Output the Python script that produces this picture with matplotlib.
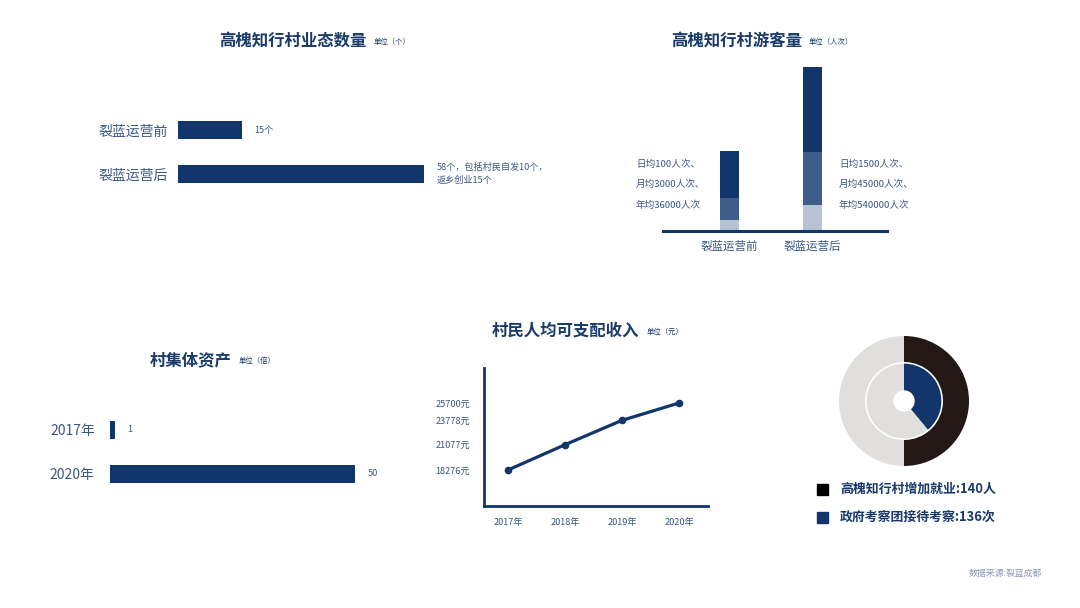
import matplotlib.pyplot as plt
from matplotlib.patches import Rectangle

plt.rcParams['font.family'] = ['Noto Sans CJK SC', 'DejaVu Sans']

# data
biz_labels = ['裂蓝运营前', '裂蓝运营后']
biz_counts = [15, 58]
biz_notes = ['15个', '58个，包括村民自发10个，\n返乡创业15个']

visit_labels = ['裂蓝运营前', '裂蓝运营后']
# stacked segment heights (relative units): light, mid, dark
visit_light = [11, 26]
visit_mid = [22, 53]
visit_dark = [47, 85]
visit_notes_before = ['日均100人次、', '月均3000人次、', '年均36000人次']
visit_notes_after = ['日均1500人次、', '月均45000人次、', '年均540000人次']

asset_years = ['2017年', '2020年']
asset_times = [1, 50]

income_years = ['2017年', '2018年', '2019年', '2020年']
income_values = [18276, 21077, 23778, 25700]

ring_labels = ['高槐知行村增加就业:140人', '政府考察团接待考察:136次']
ring_fill = [0.50, 0.39]  # share of each ring that is filled

NAVY = '#12366c'
MID = '#3e5d8a'
LIGHT = '#b7c2d3'
TXT = '#3b5783'
TITLE = '#1a3a6a'
DARK = '#231815'
GRAY = '#e0dfdd'

W, H = 1080, 608
fig = plt.figure(figsize=(W / 100, H / 100), dpi=100)


def box(x0, y0, x1, y1):
    # pixel box (top-left origin) -> figure fraction rect
    return [x0 / W, 1 - y1 / H, (x1 - x0) / W, (y1 - y0) / H]


def title(x, y, text, unit):
    t = fig.text(x / W, 1 - y / H, text, fontsize=11.8, fontweight='bold',
                 color=TITLE, ha='left', va='center')
    fig.canvas.draw()
    bb = t.get_window_extent()
    fig.text((bb.x1 + 7) / W, 1 - (y + 1) / H, unit, fontsize=5.3,
             color=TITLE, ha='left', va='center')


def clean(ax):
    for s in ax.spines.values():
        s.set_visible(False)
    ax.tick_params(length=0)


# ---- chart 1: business count
ax1 = fig.add_axes(box(178, 108, 424, 196))
ax1.barh(range(len(biz_counts)), biz_counts, height=0.41, color=NAVY)
ax1.set_xlim(0, max(biz_counts))
ax1.set_ylim(1.5, -0.5)
ax1.set_xticks([])
ax1.set_yticks(range(len(biz_labels)))
ax1.set_yticklabels(biz_labels, fontsize=10, color=TXT)
ax1.tick_params(axis='y', pad=7)
clean(ax1)
for i, (v, note) in enumerate(zip(biz_counts, biz_notes)):
    ax1.annotate(note, (v, i), xytext=(9, 0), textcoords='offset points',
                 fontsize=6.6, color=TXT, va='center', ha='left', linespacing=1.5,
                 annotation_clip=False)
title(219, 41, '高槐知行村业态数量', '单位（个）')

# ---- chart 2: visitors
ax2 = fig.add_axes(box(663, 61, 887, 231))
xs = range(len(visit_labels))
ax2.bar(xs, visit_light, width=0.23, color=LIGHT)
ax2.bar(xs, visit_mid, width=0.23, bottom=visit_light, color=MID)
tops = [a + b for a, b in zip(visit_light, visit_mid)]
ax2.bar(xs, visit_dark, width=0.23, bottom=tops, color=NAVY)
ax2.axhline(0, color=NAVY, lw=2.2, clip_on=False)
ax2.set_xlim(-0.80, 1.90)
ax2.set_ylim(0, 170)
ax2.set_yticks([])
ax2.set_xticks(list(xs))
ax2.set_xticklabels(visit_labels, fontsize=8.3, color=TXT)
ax2.tick_params(axis='x', pad=6)
clean(ax2)
for k, (a, b) in enumerate(zip(visit_notes_before, visit_notes_after)):
    y = 164 + k * 20.5
    fig.text(636 / W, 1 - y / H, a, fontsize=6.9, color=TXT, ha='left', va='center')
    fig.text(839 / W, 1 - y / H, b, fontsize=6.9, color=TXT, ha='left', va='center')
title(671, 41, '高槐知行村游客量', '单位（人次）')

# ---- chart 3: collective assets
ax3 = fig.add_axes(box(110, 408, 355, 496))
ax3.barh(range(len(asset_times)), asset_times, height=0.43, color=NAVY)
ax3.set_xlim(0, max(asset_times))
ax3.set_ylim(1.5, -0.5)
ax3.set_xticks([])
ax3.set_yticks(range(len(asset_years)))
ax3.set_yticklabels(asset_years, fontsize=10, color=TXT)
ax3.tick_params(axis='y', pad=11)
clean(ax3)
for i, v in enumerate(asset_times):
    ax3.annotate(str(v), (v, i), xytext=(9, 0), textcoords='offset points',
                 fontsize=6.6, color=TXT, va='center', ha='left', annotation_clip=False)
title(150, 360, '村集体资产', '单位（倍）')

# ---- chart 4: income line
ax4 = fig.add_axes(box(484, 368, 708, 506))
ax4.plot(range(len(income_values)), income_values, color=NAVY, lw=2.3,
         marker='o', markersize=4.5)
ax4.set_xlim(-0.42, 3.51)
ax4.set_ylim(14290, 29580)
ax4.set_xticks(range(len(income_years)))
ax4.set_xticklabels(income_years, fontsize=6.6, color=TXT)
ax4.set_yticks(income_values)
ax4.set_yticklabels([f'{v}元' for v in income_values], fontsize=6.6, color=TXT)
for s in ['top', 'right']:
    ax4.spines[s].set_visible(False)
for s in ['left', 'bottom']:
    ax4.spines[s].set_color(NAVY)
    ax4.spines[s].set_linewidth(2)
ax4.tick_params(length=0)
ax4.tick_params(axis='x', pad=9)
ax4.tick_params(axis='y', pad=10)
title(492, 331, '村民人均可支配收入', '单位（元）')

# ---- chart 5: rings
ax5 = fig.add_axes(box(839, 336, 969, 466))
ax5.pie([ring_fill[0], 1 - ring_fill[0]], colors=[DARK, GRAY], radius=1,
        startangle=90, counterclock=False,
        wedgeprops=dict(width=0.40, linewidth=0))
ax5.pie([ring_fill[1], 1 - ring_fill[1]], colors=[NAVY, GRAY], radius=0.575,
        startangle=90, counterclock=False,
        wedgeprops=dict(width=0.41, linewidth=0))
ax5.set_xlim(-1, 1)
ax5.set_ylim(-1, 1)
ax5.set_aspect('equal')
ax5.axis('off')

for k, (lab, c) in enumerate(zip(ring_labels, ['#000000', NAVY])):
    y = 489 + k * 28
    fig.add_artist(Rectangle(((817) / W, 1 - (y + 5.5) / H), 11 / W, 11 / H,
                             color=c, transform=fig.transFigure))
    fig.text(840 / W, 1 - y / H, lab, fontsize=9.3, fontweight='bold',
             color=TITLE, ha='left', va='center')

fig.text(1042 / W, 1 - 573 / H, '数据来源:裂蓝成都', fontsize=6.4, color='#8a9ab5',
         ha='right', va='center')

fig.savefig('out.png', dpi=100, facecolor='white')
